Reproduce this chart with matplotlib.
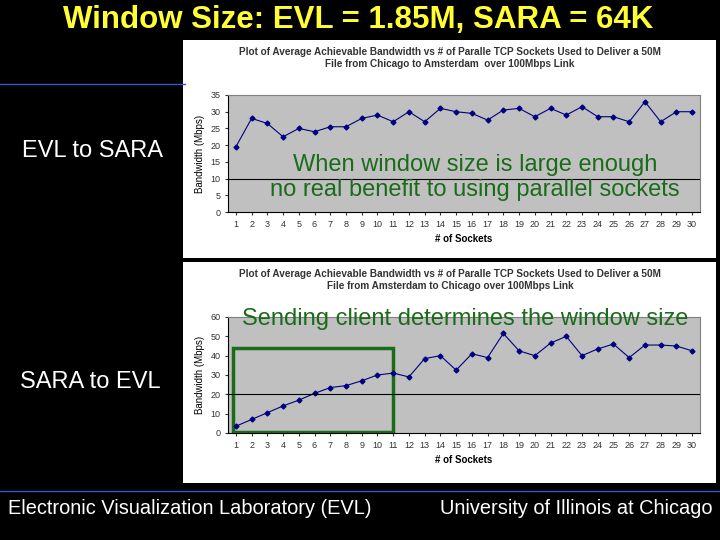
import matplotlib.pyplot as plt
from matplotlib.patches import Rectangle

plt.rcParams['font.family'] = ['Liberation Sans', 'DejaVu Sans']

sockets = list(range(1, 31))
evl_to_sara = [19.5, 28, 26.5, 22.5, 25, 24, 25.5, 25.5, 28, 29, 27, 30, 27, 31, 30,
               29.5, 27.5, 30.5, 31, 28.5, 31, 29, 31.5, 28.5, 28.5, 27, 33, 27, 30, 30]
sara_to_evl = [3.5, 7, 10.5, 14, 17, 20.5, 23.5, 24.5, 27, 30, 31, 29, 38.5, 40, 32.5,
               41, 39, 51.5, 42.5, 40, 46.5, 50, 40, 43.5, 46, 39, 45.5, 45.5, 45, 42.5]

W, H = 720, 540
fig = plt.figure(figsize=(7.2, 5.4), dpi=100, facecolor='black')

def fx(x): return x / W
def fy(y): return 1 - y / H

fig.text(fx(358), fy(20), 'Window Size: EVL = 1.85M, SARA = 64K', color='#ffff33',
         fontsize=22.5, fontweight='bold', ha='center', va='center')
fig.add_artist(plt.Line2D([0, fx(185)], [fy(84), fy(84)], color='#3355cc', lw=1))
fig.add_artist(plt.Line2D([0, 1], [fy(491), fy(491)], color='#3355cc', lw=1))
fig.text(fx(92), fy(151), 'EVL to SARA', color='white', fontsize=17, ha='center', va='center')
fig.text(fx(90), fy(382), 'SARA to EVL', color='white', fontsize=17, ha='center', va='center')
fig.text(fx(8), fy(508), 'Electronic Visualization Laboratory (EVL)', color='white', fontsize=14.4, va='center')
fig.text(fx(712), fy(508), 'University of Illinois at Chicago', color='white', fontsize=14.4,
         ha='right', va='center')

panels = [
    (40, 258, 95, 212, evl_to_sara, 35, 5,
     'Plot of Average Achievable Bandwidth vs # of Paralle TCP Sockets Used to Deliver a 50M\nFile from Chicago to Amsterdam  over 100Mbps Link', 10),
    (262, 483, 317, 433, sara_to_evl, 60, 10,
     'Plot of Average Achievable Bandwidth vs # of Paralle TCP Sockets Used to Deliver a 50M\nFile from Amsterdam to Chicago over 100Mbps Link', 20),
]
axes = []
for top, bot, atop, abot, data, ymax, step, title, hline in panels:
    fig.add_artist(Rectangle((fx(183), fy(bot)), fx(716 - 183), fy(top) - fy(bot),
                             transform=fig.transFigure, facecolor='white', edgecolor='none',
                             zorder=-5))
    fig.text(fx(450), fy(top + 18), title, fontsize=7.2, fontweight='bold', ha='center',
             va='center', color='#333333')
    ax = fig.add_axes([fx(228), fy(abot), fx(700 - 228), fy(atop) - fy(abot)])
    ax.set_facecolor('#c0c0c0')
    ax.plot(sockets, data, color='#000080', marker='D', markersize=2.5, lw=0.8)
    ax.axhline(hline, color='black', lw=0.8)
    ax.set_xlim(0.5, 30.5)
    ax.set_ylim(0, ymax)
    ax.set_yticks(range(0, ymax + 1, step))
    ax.set_xticks(sockets)
    ax.tick_params(labelsize=6.5, length=2, colors='#333333')
    ax.set_xlabel('# of Sockets', fontsize=7, fontweight='bold')
    ax.set_ylabel('Bandwidth (Mbps)', fontsize=7)
    for s in ['top', 'right']:
        ax.spines[s].set_color('#808080')
    axes.append(ax)

axes[0].text(16.2, 10.3, 'When window size is large enough\nno real benefit to using parallel sockets',
             color='#1a6b1a', fontsize=17, ha='center', va='center')
axes[1].text(15.6, 59, 'Sending client determines the window size', color='#1a6b1a',
             fontsize=17, ha='center', va='center', clip_on=False)
axes[1].add_patch(Rectangle((0.82, 0.5), 10.17, 43.5, fill=False, edgecolor='#1a6b1a', lw=2.5))

fig.savefig('out.png', dpi=100, facecolor='black')
